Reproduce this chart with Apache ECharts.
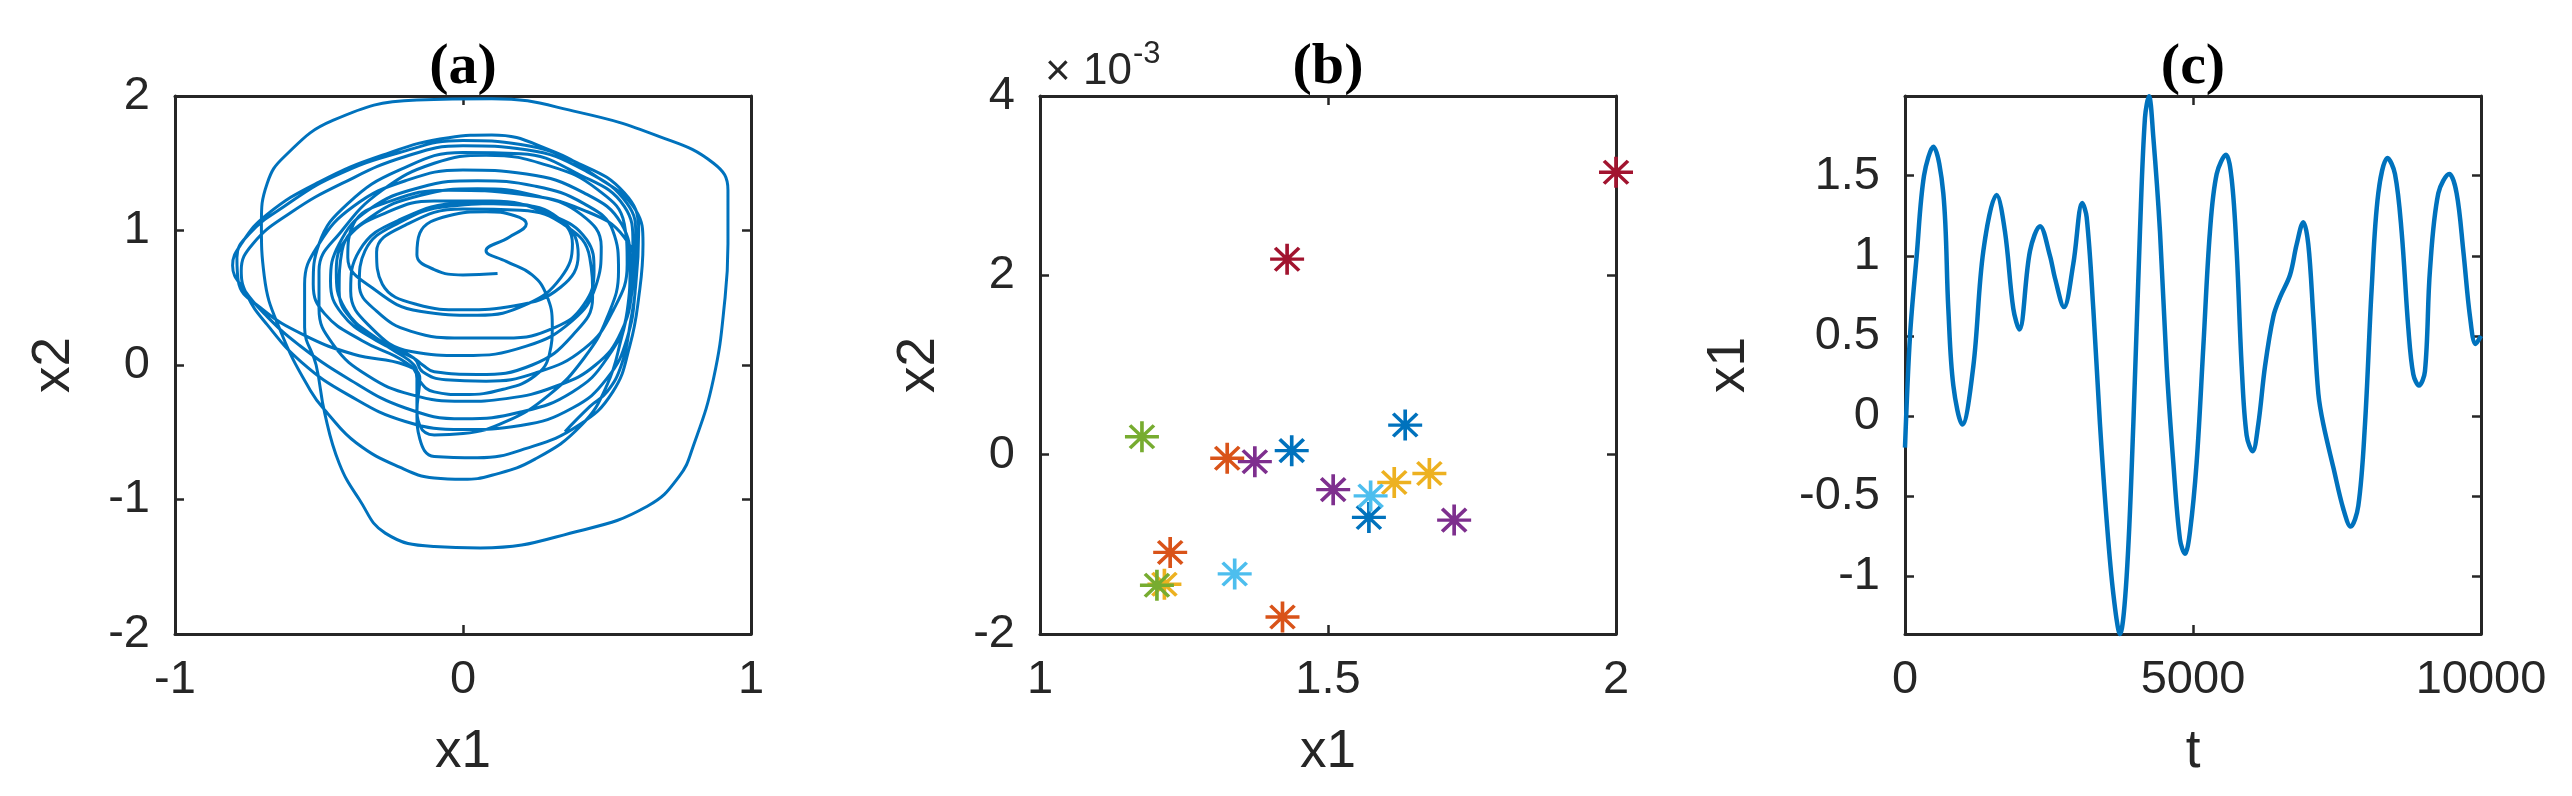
<!DOCTYPE html>
<html><head><meta charset="utf-8">
<script src="https://cdn.jsdelivr.net/npm/echarts@6/dist/echarts.min.js"></script>
<style>html,body{margin:0;padding:0;background:#fff}#c{width:2572px;height:796px}</style>
</head><body><div id="c"></div>
<script>
// ---------- Panel (a): phase portrait x1 vs x2 (in order) ----------
const loop01 = [[0.12,0.68],[0.0,0.67],[-0.1,0.71],[-0.16,0.82],[-0.15,0.98],[-0.05,1.11],[0.08,1.14],[0.18,1.11],[0.22,1.05],[0.16,0.95],[0.08,0.85],[0.15,0.77],[0.24,0.67],[0.29,0.52],[0.31,0.30],[0.30,0.08],[0.25,-0.08],[0.14,-0.18],[0.0,-0.22],[-0.1,-0.2]];
const loop02 = [[-0.15,-0.12],[-0.17,0.0],[-0.25,0.12],[-0.37,0.3],[-0.43,0.55],[-0.42,0.85],[-0.32,1.1],[-0.15,1.26],[0.05,1.31],[0.25,1.26],[0.41,1.12],[0.48,0.88],[0.46,0.58],[0.38,0.33],[0.22,0.14],[0.0,0.07]];
const loop03 = [[-0.18,0.1],[-0.32,0.28],[-0.39,0.55],[-0.36,0.85],[-0.22,1.08],[0.0,1.2],[0.2,1.19],[0.35,1.06],[0.4,0.82],[0.34,0.58],[0.18,0.44],[0.0,0.41]];
const loop04 = [[-0.16,0.45],[-0.28,0.6],[-0.3,0.84],[-0.2,1.04],[0.0,1.16],[0.2,1.15],[0.36,1.03],[0.44,0.8],[0.45,0.5],[0.38,0.22],[0.24,0.0],[0.05,-0.07],[-0.1,-0.05],[-0.14,0.0]];
const loop05 = [[-0.17,0.05],[-0.3,0.18],[-0.42,0.38],[-0.46,0.62],[-0.43,0.9],[-0.33,1.15],[-0.15,1.32],[0.05,1.37],[0.25,1.33],[0.42,1.2],[0.52,1.0],[0.54,0.7],[0.5,0.35],[0.42,0.05],[0.3,-0.22],[0.15,-0.42],[0.0,-0.51],[-0.1,-0.52]];
const loop06 = [[-0.15,-0.45],[-0.16,-0.3],[-0.16,-0.1],[-0.2,0.02],[-0.35,0.18],[-0.48,0.38],[-0.52,0.6],[-0.5,0.9],[-0.4,1.2],[-0.22,1.45],[0.0,1.58],[0.2,1.57],[0.4,1.42],[0.56,1.18],[0.59,0.9],[0.58,0.5],[0.55,0.2],[0.5,-0.15],[0.41,-0.45],[0.25,-0.7],[0.1,-0.82],[0.0,-0.85],[-0.1,-0.84],[-0.22,-0.76],[-0.37,-0.58],[-0.47,-0.36]];
const loop07 = [[-0.53,-0.19],[-0.635,0.26],[-0.69,0.66],[-0.70,1.05],[-0.68,1.35],[-0.62,1.55],[-0.45,1.82],[-0.16,1.97],[0.1,1.98],[0.4,1.88],[0.68,1.7],[0.87,1.5],[0.92,1.3],[0.92,0.9],[0.91,0.5],[0.87,-0.1],[0.80,-0.6],[0.75,-0.83],[0.64,-1.05],[0.41,-1.23],[0.06,-1.36],[-0.1,-1.35],[-0.27,-1.25],[-0.36,-1.0],[-0.43,-0.73],[-0.48,-0.36],[-0.51,0.0],[-0.55,0.28],[-0.55,0.6],[-0.5,0.9],[-0.38,1.18],[-0.2,1.37],[0.0,1.45],[0.22,1.42],[0.42,1.28],[0.55,1.05],[0.58,0.75],[0.57,0.4],[0.5,0.05],[0.38,-0.2],[0.2,-0.35],[0.0,-0.4]];
const loop08 = [[-0.2,-0.32],[-0.4,-0.1],[-0.57,0.15],[-0.68,0.36],[-0.76,0.56],[-0.80,0.74],[-0.77,0.9],[-0.68,1.12],[-0.5,1.36],[-0.28,1.56],[-0.05,1.69],[0.1,1.71],[0.3,1.6],[0.45,1.42],[0.6,1.15],[0.625,0.9],[0.61,0.5],[0.58,0.15],[0.52,-0.2],[0.4,-0.45],[0.22,-0.62],[0.05,-0.69],[-0.1,-0.68]];
const loop09 = [[-0.15,-0.55],[-0.16,-0.35],[-0.15,-0.1],[-0.2,0.0],[-0.38,0.08],[-0.55,0.22],[-0.7,0.42],[-0.78,0.62],[-0.785,0.8],[-0.74,0.98],[-0.62,1.18],[-0.45,1.4],[-0.22,1.58],[0.0,1.67],[0.2,1.64],[0.4,1.5],[0.56,1.28],[0.61,1.0],[0.6,0.6],[0.57,0.2],[0.5,-0.1],[0.38,-0.32],[0.2,-0.45],[0.0,-0.48]];
const loop10 = [[-0.2,-0.42],[-0.4,-0.22],[-0.56,0.02],[-0.68,0.3],[-0.75,0.52],[-0.77,0.7],[-0.73,0.9],[-0.6,1.13],[-0.42,1.35],[-0.2,1.55],[0.0,1.63],[0.22,1.6],[0.42,1.45],[0.57,1.2],[0.6,0.95],[0.59,0.6],[0.55,0.25],[0.46,0.0],[0.32,-0.16],[0.15,-0.25],[0.0,-0.27]];
const loop11 = [[-0.18,-0.22],[-0.33,-0.08],[-0.45,0.15],[-0.5,0.42],[-0.5,0.7],[-0.42,1.0],[-0.28,1.3],[-0.1,1.5],[0.08,1.56],[0.3,1.48],[0.47,1.3],[0.56,1.05],[0.57,0.75],[0.52,0.4],[0.42,0.12],[0.25,-0.06],[0.08,-0.12],[-0.06,-0.11]];
const loop12 = [[-0.14,-0.05],[-0.17,0.05],[-0.3,0.2],[-0.41,0.42],[-0.44,0.7],[-0.4,0.95],[-0.27,1.13],[-0.1,1.22],[0.1,1.22],[0.3,1.12],[0.43,0.93],[0.455,0.7],[0.42,0.45],[0.32,0.28],[0.15,0.2],[0.0,0.2]];
const loop13 = [[-0.18,0.25],[-0.3,0.4],[-0.36,0.6],[-0.34,0.85],[-0.22,1.06],[-0.05,1.18],[0.15,1.2],[0.32,1.1],[0.38,0.9],[0.34,0.65],[0.22,0.45],[0.05,0.37],[-0.15,0.4],[-0.3,0.55],[-0.4,0.8],[-0.38,1.05],[-0.25,1.22],[-0.05,1.3],[0.2,1.27],[0.42,1.15],[0.56,0.95],[0.6,0.65],[0.58,0.3],[0.55,0.0],[0.5,-0.2],[0.44,-0.31],[0.354,-0.496]];

// ---------- Panel (b): points (x1, x2) grouped by colour ----------
const bBlue   = [[1.437,0.045e-3],[1.634,0.33e-3],[1.571,-0.70e-3]];
const bOrange = [[1.325,-0.04e-3],[1.226,-1.09e-3],[1.421,-1.81e-3]];
const bYellow = [[1.676,-0.21e-3],[1.615,-0.31e-3],[1.216,-1.445e-3]];
const bPurple = [[1.373,-0.078e-3],[1.509,-0.39e-3],[1.719,-0.73e-3]];
const bGreen  = [[1.177,0.20e-3],[1.203,-1.456e-3]];
const bLight  = [[1.574,-0.46e-3],[1.338,-1.33e-3]];
const bRed    = [[2.0,3.15e-3],[1.429,2.18e-3]];

// ---------- Panel (c): time series x1(t) ----------
const cT  = [0,87,203,330,492,665,752,839,995,1186,1360,1591,1736,1880,1985,2170,2344,2517,2604,2760,2922,3078,3154,3269,3385,3501,3617,3732,3848,3964,4079,4166,4236,4311,4427,4543,4658,4774,4861,4948,5063,5179,5294,5411,5573,5671,5758,5845,5931,6035,6134,6250,6394,6510,6684,6799,6915,7002,7089,7176,7262,7436,7610,7737,7870,7986,8101,8217,8379,8507,8622,8738,8825,8923,9027,9114,9259,9450,9577,9693,9809,9907,10000];
const cX1 = [-0.197,0.5,1.0,1.5,1.68,1.39,0.67,0.19,-0.053,0.31,1.03,1.38,1.15,0.67,0.54,1.03,1.185,1.0,0.86,0.68,0.95,1.33,1.24,0.67,-0.05,-0.65,-1.11,-1.36,-1.0,-0.05,1.15,1.86,1.995,1.74,1.15,0.31,-0.29,-0.77,-0.86,-0.72,-0.29,0.43,1.15,1.51,1.63,1.48,1.03,0.31,-0.12,-0.22,-0.05,0.31,0.62,0.74,0.88,1.07,1.21,1.07,0.62,0.14,-0.05,-0.32,-0.58,-0.69,-0.56,-0.05,0.79,1.39,1.61,1.51,1.15,0.55,0.26,0.19,0.28,0.91,1.39,1.51,1.39,1.03,0.62,0.45,0.50];

// tick labels
const cYTicks = [-1,-0.5,0,0.5,1,1.5];

const AX = '#262626';
const tickFont = {fontFamily:'"Liberation Sans", Arial, sans-serif', fontSize:47, color:AX};
const nameFont = 'normal 53px "Liberation Sans", Arial, sans-serif';
const titleFont = 'bold 58px "Liberation Serif", "Times New Roman", serif';

const grids = [
  {left:175, top:96, width:576, height:538},
  {left:1040, top:96, width:576, height:538},
  {left:1905, top:96, width:576, height:538}
];

function xAx(g, pos, o, show){
  return Object.assign({gridIndex:g, type:'value', position:pos,
    axisLine:{show:true, onZero:false, lineStyle:{color:AX, width:3}},
    axisTick:{show:true, inside:true, length:9, lineStyle:{color:AX, width:2.5}},
    axisLabel:Object.assign({show:show, margin:23, hideOverlap:false, showMinLabel:true, showMaxLabel:true}, tickFont),
    splitLine:{show:false}}, o);
}
function yAx(g, pos, o, show){
  return Object.assign({gridIndex:g, type:'value', position:pos,
    axisLine:{show:true, onZero:false, lineStyle:{color:AX, width:3}},
    axisTick:{show:true, inside:true, length:9, lineStyle:{color:AX, width:2.5}},
    axisLabel:Object.assign({show:show, margin:25, hideOverlap:false, showMinLabel:true, showMaxLabel:true}, tickFont),
    splitLine:{show:false}}, o);
}
const aX = {min:-1, max:1, interval:1};
const aY = {min:-2, max:2, interval:1};
const bX = {min:1, max:2, interval:0.5};
const bY = {min:-0.002, max:0.004, interval:0.002};
const cX = {min:0, max:10000, interval:5000};
const cY = {min:-1.36, max:1.997};

const bYfmt = v => String(Math.round(v*1000));
const cYcustom = (show) => ({axisLabel:Object.assign({show:show, margin:25, customValues:cYTicks, formatter:v=>String(v)}, tickFont),
  axisTick:{show:true, inside:true, length:9, customValues:cYTicks, lineStyle:{color:AX, width:2.5}}});

const xAxes = [
  xAx(0,'bottom',aX,true), xAx(0,'top',aX,false),
  xAx(1,'bottom',bX,true), xAx(1,'top',bX,false),
  xAx(2,'bottom',cX,true), xAx(2,'top',cX,false)
];
xAxes[4].axisLabel = Object.assign({show:true, margin:23, formatter:v=>String(v)}, tickFont);
const yAxes = [
  yAx(0,'left',aY,true), yAx(0,'right',aY,false),
  yAx(1,'left',bY,true), yAx(1,'right',bY,false),
  yAx(2,'left',cY,true), yAx(2,'right',cY,false)
];
yAxes[2].axisLabel.formatter = bYfmt;
Object.assign(yAxes[4], cYcustom(true));
Object.assign(yAxes[5], cYcustom(false));

const traj = [].concat(loop01,loop02,loop03,loop04,loop05,loop06,loop07,loop08,loop09,loop10,loop11,loop12,loop13);
const star = 'path://M0,15L34,15M17,0L17,30M5,4L29,26M5,26L29,4';
function starSeries(data, color){
  return {type:'scatter', xAxisIndex:2, yAxisIndex:2, data:data, symbol:star, symbolSize:[34,31],
    clip:false, itemStyle:{color:color, borderColor:color, borderWidth:3.5, opacity:1}, silent:true, animation:false};
}
const cData = cT.map((t,i)=>[t, cX1[i]]);

const series = [
  {type:'line', xAxisIndex:0, yAxisIndex:0, data:traj, smooth:0.45, showSymbol:false, symbol:'none',
   lineStyle:{color:'#0072BD', width:3}, clip:true, animation:false},
  starSeries(bBlue,'#0072BD'), starSeries(bOrange,'#D95319'), starSeries(bYellow,'#EDB120'),
  starSeries(bPurple,'#7E2F8E'), starSeries(bGreen,'#77AC30'), starSeries(bLight,'#4DBEEE'), starSeries(bRed,'#A2142F'),
  {type:'line', xAxisIndex:4, yAxisIndex:4, data:cData, smooth:0.35, showSymbol:false, symbol:'none',
   lineStyle:{color:'#0072BD', width:4.5}, clip:false, animation:false}
];

function txt(x,y,text,font,rot,fill){
  return {type:'text', x:x, y:y, rotation:rot||0, silent:true,
    style:{text:text, font:font, fill:fill||AX, textAlign:'center', align:'center', textVerticalAlign:'middle', verticalAlign:'middle'}};
}
const graphic = [
  txt(463,68,'(a)',titleFont,0,'#000'), txt(1328,68,'(b)',titleFont,0,'#000'), txt(2193,68,'(c)',titleFont,0,'#000'),
  txt(463,752,'x1',nameFont), txt(1328,752,'x1',nameFont), txt(2193,752,'t',nameFont),
  txt(54,365,'x2',nameFont,Math.PI/2), txt(919,365,'x2',nameFont,Math.PI/2), txt(1729,365,'x1',nameFont,Math.PI/2),
  {type:'text', x:1045, y:73, silent:true, style:{text:'×', font:'normal 44px "Liberation Sans", Arial, sans-serif', fill:AX, textAlign:'left', align:'left', textVerticalAlign:'middle', verticalAlign:'middle'}},
  {type:'text', x:1083, y:72, silent:true, style:{text:'10', font:'normal 44px "Liberation Sans", Arial, sans-serif', fill:AX, textAlign:'left', align:'left', textVerticalAlign:'middle', verticalAlign:'middle'}},
  {type:'text', x:1133, y:54, silent:true, style:{text:'-3', font:'normal 31px "Liberation Sans", Arial, sans-serif', fill:AX, textAlign:'left', align:'left', textVerticalAlign:'middle', verticalAlign:'middle'}}
];

const chart = echarts.init(document.getElementById('c'), null, {renderer:'canvas'});
chart.setOption({
  backgroundColor:'#ffffff', animation:false,
  grid:grids, xAxis:xAxes, yAxis:yAxes, series:series, graphic:graphic
});
</script>
</body></html>
